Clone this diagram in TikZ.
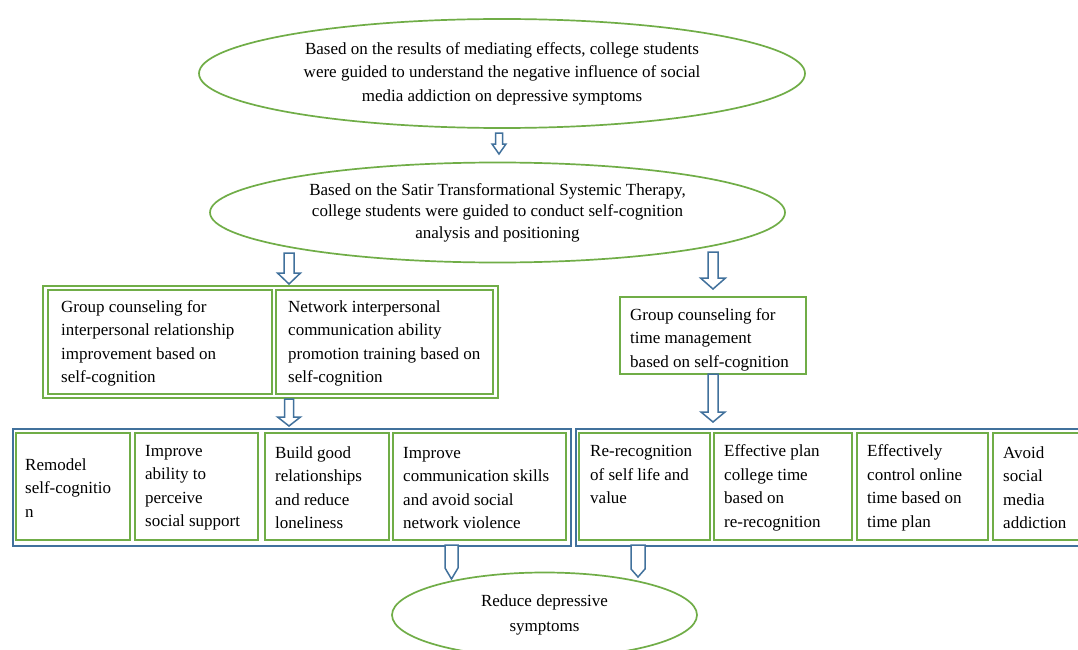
\documentclass[tikz,border=0pt]{standalone}
\usepackage{fontspec}
\setmainfont{Liberation Serif}
\usetikzlibrary{shapes.geometric}
\definecolor{grn}{RGB}{112,173,71}
\definecolor{blu}{RGB}{65,113,156}
% block arrow: x, ytop, yhead, ytip, shaft half width, head half width
\newcommand{\blockarr}[6]{%
  \draw[arrowst] (#1-#5,#2) -- (#1+#5,#2) -- (#1+#5,#3) -- (#1+#6,#3) -- (#1,#4) -- (#1-#6,#3) -- (#1-#5,#3) -- cycle;}
% pentagon arrow: x, ytop, yhead, ytip, half width
\newcommand{\pentarr}[5]{%
  \draw[arrowst] (#1-#5,#2) -- (#1+#5,#2) -- (#1+#5,#3) -- (#1,#4) -- (#1-#5,#3) -- cycle;}
\begin{document}
\begin{tikzpicture}[x=1pt,y=-1pt,
  font=\fontsize{17}{23.5}\selectfont,
  gell/.style={draw=grn, line width=1.7pt, ellipse, inner sep=0pt, align=center, fill=white},
  gbox/.style={draw=grn, line width=1.8pt, rectangle, inner sep=0pt, anchor=north west, fill=white, minimum height=107},
  bgrp/.style={draw=blu, line width=1.5pt, rectangle, inner sep=0pt, anchor=north west, fill=white},
  ggrp/.style={draw=grn, line width=1.8pt, rectangle, inner sep=0pt, anchor=north west, fill=white},
  txt/.style={align=left, inner sep=0pt, anchor=west, yshift=-1.5pt},
  arrowst/.style={draw=blu, line width=1.5pt, fill=white, line join=miter}]
\useasboundingbox (0,0) rectangle (1078,650);
\fill[white] (0,0) rectangle (1078,650);

% ellipses
\node[gell, minimum width=606, minimum height=109] (e1) at (502,73.5)
  {Based on the results of mediating effects, college students\\were guided to understand the negative influence of social\\media addiction on depressive symptoms};
\node[gell, minimum width=575, minimum height=100, font=\fontsize{17}{21.5}\selectfont] (e2) at (497.5,212.5)
  {Based on the Satir Transformational Systemic Therapy,\\college students were guided to conduct self-cognition\\analysis and positioning};
\node[gell, minimum width=305, minimum height=85, font=\fontsize{17}{25}\selectfont] (e3) at (544.5,615)
  {Reduce depressive\\symptoms};

% middle row
\node[ggrp, minimum width=455, minimum height=112] (G1) at (42,285) {};
\node[gbox, minimum width=224, minimum height=104] (m1) at (47,289) {};
\node[gbox, minimum width=217, minimum height=104] (m2) at (275,289) {};
\node[gbox, minimum width=186, minimum height=77] (m3) at (619,296) {};
\node[txt] (tm1) at ([xshift=14pt]m1.west) {Group counseling for\\interpersonal relationship\\improvement based on\\self-cognition};
\node[txt] (tm2) at ([xshift=13pt]m2.west) {Network interpersonal\\communication ability\\promotion training based on\\self-cognition};
\node[txt] (tm3) at ([xshift=11pt,yshift=-2.5pt]m3.west) {Group counseling for\\time management\\based on self-cognition};

% bottom row groups
\node[bgrp, minimum width=558, minimum height=117] (B1) at (12,428) {};
\node[bgrp, minimum width=515, minimum height=117] (B2) at (575,428) {};

\node[gbox, minimum width=114] (b1) at (15,432) {};
\node[gbox, minimum width=123] (b2) at (134,432) {};
\node[gbox, minimum width=124] (b3) at (264,432) {};
\node[gbox, minimum width=173] (b4) at (392,432) {};
\node[gbox, minimum width=131] (c1) at (578,432) {};
\node[gbox, minimum width=138] (c2) at (713,432) {};
\node[gbox, minimum width=131] (c3) at (856,432) {};
\node[gbox, minimum width=110] (c4) at (992,432) {};

\node[txt] (tb1) at ([xshift=10pt]b1.west) {Remodel\\self-cognitio\\n};
\node[txt] (tb2) at ([xshift=11pt]b2.west) {Improve\\ability to\\perceive\\social support};
\node[txt] (tb3) at ([xshift=11pt]b3.west) {Build good\\relationships\\and reduce\\loneliness};
\node[txt] (tb4) at ([xshift=11pt]b4.west) {Improve\\communication skills\\and avoid social\\network violence};
\node[txt] (tc1) at ([xshift=12pt,yshift=13pt]c1.west) {Re-recognition\\of self life and\\value};
\node[txt] (tc2) at ([xshift=11pt]c2.west) {Effective plan\\college time\\based on\\re-recognition};
\node[txt] (tc3) at ([xshift=11pt]c3.west) {Effectively\\control online\\time based on\\time plan};
\node[txt] (tc4) at ([xshift=11pt]c4.west) {Avoid\\social\\media\\addiction};

% arrows
\blockarr{499}{133}{144}{154}{3.5}{7}
\blockarr{289}{253}{273}{284}{5}{11.5}
\blockarr{713}{252}{278}{289}{5}{12.5}
\blockarr{713}{374}{412}{422}{5}{12}
\blockarr{289}{399}{417}{426}{4.5}{11.5}
\pentarr{451.5}{545}{568}{579}{6.5}
\pentarr{638}{545}{569}{577}{7}
\end{tikzpicture}
\end{document}
